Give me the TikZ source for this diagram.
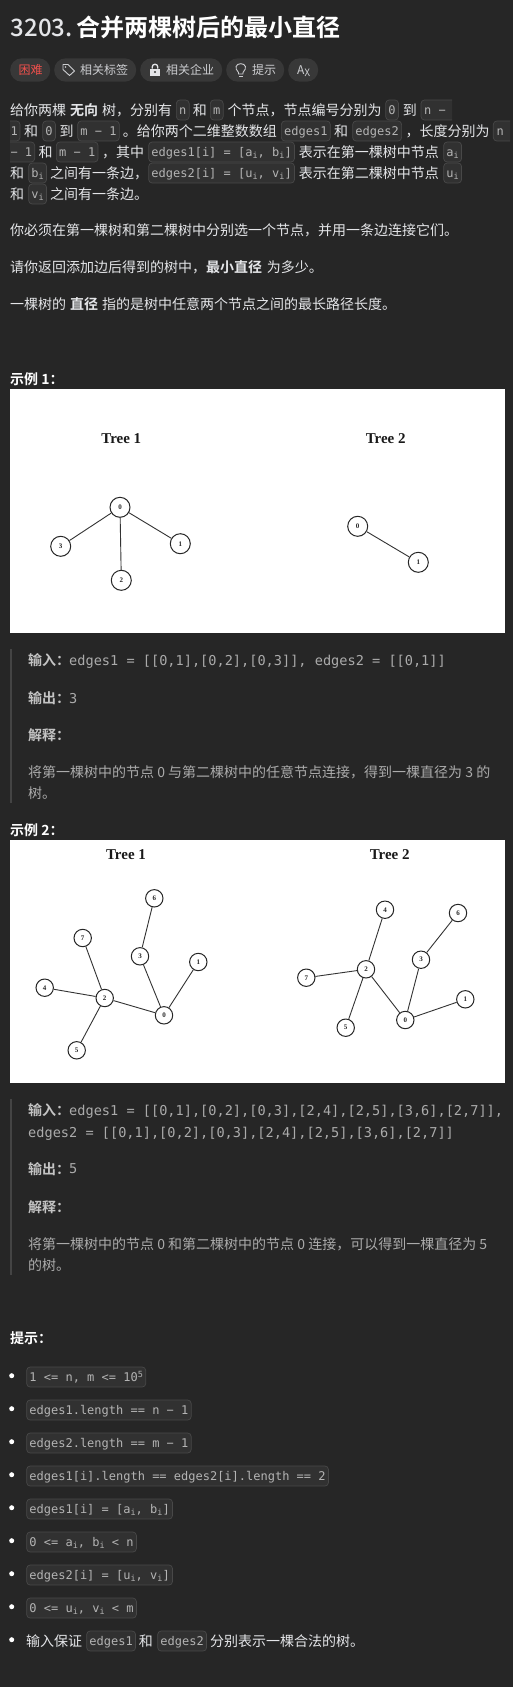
\documentclass[tikz,border=0pt]{standalone}
\usepackage{fontspec}
\setmainfont{Noto Sans CJK SC}[BoldFont={Noto Sans CJK SC Bold}]
\setmonofont{DejaVu Sans Mono}
\newfontfamily\treefont{Liberation Serif}
\newfontfamily\numberfont{Noto Sans CJK SC Medium}
\usetikzlibrary{positioning}

\definecolor{pagebg}{HTML}{262626}
\definecolor{pillbg}{HTML}{383838}
\definecolor{chipbg}{HTML}{313131}
\definecolor{chipedge}{HTML}{484848}
\definecolor{bodytext}{HTML}{E4E5E8}
\definecolor{quotetext}{HTML}{ABABAB}
\definecolor{quotehead}{HTML}{C4C4C4}
\definecolor{codetext}{HTML}{B4B4B4}
\definecolor{hardred}{HTML}{F0504C}
\definecolor{quotebar}{HTML}{444444}

\newcommand{\subi}{\raisebox{-2pt}{\fontsize{8.5}{10}\selectfont i}}

\begin{document}
\begin{tikzpicture}[
  x=1pt, y=-1pt,
  txt/.style={anchor=base west, inner sep=0pt, text=bodytext, font=\fontsize{14}{21}\selectfont},
  head/.style={txt, font=\fontsize{14}{21}\selectfont\bfseries, text=white},
  quo/.style={txt, text=quotetext},
  quohead/.style={txt, text=quotehead, font=\fontsize{14}{21}\selectfont\bfseries},
  quocode/.style={txt, text=quotetext, font=\fontsize{13.6}{21}\ttfamily},
  chip/.style={
    anchor=west, draw=chipedge, fill=chipbg, rounded corners=3.5pt, line width=0.7pt,
    text=codetext, font=\fontsize{12}{14}\ttfamily,
    inner xsep=2.8pt, inner ysep=4pt, text height=10pt, text depth=2pt,
  },
  chiptxt/.style={
    anchor=west, text=codetext, font=\fontsize{12}{14}\ttfamily,
    inner xsep=0pt, inner ysep=4pt, text height=10pt, text depth=2pt,
  },
  openchip/.style={draw=chipedge, fill=chipbg, rounded corners=3.5pt, line width=0.7pt},
  pill/.style={anchor=west, fill=pillbg, rounded corners=11.6pt, minimum height=23.4pt, inner sep=0pt},
  pilltxt/.style={anchor=base west, inner sep=0pt, text=bodytext!90!black, font=\fontsize{12}{14}\selectfont},
  shot/.style={fill=white},
  treehead/.style={text=black!90, inner sep=0pt, font=\treefont\fontsize{15}{16}\selectfont\bfseries},
  treenode/.style={circle, draw=black!85, fill=white, line width=1pt, minimum size=20pt, inner sep=0pt,
    text=black!85, font=\treefont\fontsize{7}{7}\selectfont\bfseries},
  smallnode/.style={treenode, minimum size=17.4pt},
  edge/.style={draw=black!80, line width=0.9pt},
  dot/.style={circle, fill=white, minimum size=5pt, inner sep=0pt},
]
\fill[pagebg] (0,0) rectangle (513,1687);
\useasboundingbox (0,0) rectangle (513,1687);

% --- Title ---
\node[txt, font=\numberfont\fontsize{24}{28}\selectfont] (Number) at (10.5,36) {3203.};
\node[txt, font=\fontsize{24}{28}\selectfont\bfseries, text=white] (Title) at (76,36) {合并两棵树后的最小直径};

% --- Pills ---
\node[pill, minimum width=40pt] (PillHard) at (10,70) {};
\node[pill, minimum width=82pt] (PillTags) at (54,70) {};
\node[pill, minimum width=82pt] (PillFirms) at (140,70) {};
\node[pill, minimum width=58pt] (PillHint) at (226,70) {};
\node[pill, minimum width=30pt] (PillLang) at (288,70) {};
\node[pilltxt, text=hardred] (Hard) at (18.3,74.5) {困难};
\node[pilltxt] (Tags) at (80,74.5) {相关标签};
\node[pilltxt] (Firms) at (166,74.5) {相关企业};
\node[pilltxt] (Hint) at (252,74.5) {提示};
\node[pilltxt, font=\fontsize{12}{14}\selectfont] (LangA) at (297,74.5) {A};
\node[pilltxt, font=\fontsize{10}{14}\selectfont] (LangX) at (304.5,74.5) {χ};
% Tag, lock and bulb icons
\draw[bodytext!90!black, line width=0.9pt, line join=round] (63,64.5) -- (68,64.5) -- (74.5,71) -- (69.5,75.5) -- (63,69.5) -- cycle;
\fill[bodytext!90!black] (65.5,67) circle[radius=0.8pt];
\fill[bodytext] (150,68.5) rectangle (160,75.5);
\draw[bodytext, line width=1.3pt] (152.2,68.5) -- (152.2,67) arc[start angle=180, end angle=0, radius=2.8pt] -- (157.8,68.5);
\fill[pillbg] (155,72) circle[radius=1.2pt];
\draw[bodytext!90!black, line width=0.9pt] (238.5,72.5) .. controls (234,68) and (236,63.7) .. (240.7,63.7) .. controls (245.5,63.7) and (247.5,68) .. (243,72.5) -- (243,74) -- (238.5,74) -- cycle;
\draw[bodytext!90!black, line width=1pt] (239,76) -- (242.5,76);

% --- Statement ---
\node[txt] (L1a) at (10,115) {给你两棵};
\node[txt, font=\fontsize{14}{21}\selectfont\bfseries] (L1b) at (70,115) {无向};
\node[txt] (L1c) at (102,115) {树，分别有};
\node[chip] (L1n) at (176,110) {n};
\node[txt] (L1d) at (192.7,115) {和};
\node[chip] (L1m) at (210,110) {m};
\node[txt] (L1e) at (227.3,115) {个节点，节点编号分别为};
\node[chip] (L1z) at (385.3,110) {0};
\node[txt] (L1f) at (402.7,115) {到};
\draw[openchip] (452,100) -- (421,100) -- (421,120) -- (452,120);
\node[chiptxt] (L1w) at (424,110) {n −};

\draw[openchip] (10,121) -- (20,121) -- (20,141) -- (10,141);
\node[chiptxt] (L2o) at (10.5,131) {1};
\node[txt] (L2a) at (24,136) {和};
\node[chip] (L2z) at (42.3,131) {0};
\node[txt] (L2b) at (59.3,136) {到};
\node[chip] (L2m) at (77.3,131) {m − 1};
\node[txt] (L2c) at (122.7,136) {。给你两个二维整数数组};
\node[chip] (L2e) at (281,131) {edges1};
\node[txt] (L2d) at (334,136) {和};
\node[chip] (L2g) at (352.3,131) {edges2};
\node[txt] (L2f) at (405.3,136) {，长度分别为};
\draw[openchip] (510,121) -- (493.3,121) -- (493.3,141) -- (510,141);
\node[chiptxt] (L2w) at (496.3,131) {n};

\draw[openchip] (10,142) -- (34.7,142) -- (34.7,162) -- (10,162);
\node[chiptxt] (L3o) at (10.3,152) {− 1};
\node[txt] (L3a) at (38.3,157) {和};
\node[chip] (L3m) at (56,152) {m − 1};
\node[txt] (L3b) at (102,157) {，其中};
\node[chip] (L3e) at (148.3,152) {edges1[i] = [a\subi, b\subi]};
\node[txt] (L3c) at (298.7,157) {表示在第一棵树中节点};
\node[chip] (L3v) at (443.3,152) {a\subi};

\node[txt] (L4a) at (10,178) {和};
\node[chip] (L4v) at (28.3,173) {b\subi};
\node[txt] (L4b) at (50,178) {之间有一条边，};
\node[chip] (L4e) at (148.3,173) {edges2[i] = [u\subi, v\subi]};
\node[txt] (L4c) at (298.7,178) {表示在第二棵树中节点};
\node[chip] (L4u) at (443.3,173) {u\subi};

\node[txt] (L5a) at (10,199) {和};
\node[chip] (L5v) at (28.3,194) {v\subi};
\node[txt] (L5b) at (50,199) {之间有一条边。};

\node[txt] (Para2) at (10,235) {你必须在第一棵树和第二棵树中分别选一个节点，并用一条边连接它们。};
\node[txt] (Para3a) at (10,272) {请你返回添加边后得到的树中，};
\node[txt, font=\fontsize{14}{21}\selectfont\bfseries] (Para3b) at (206,272) {最小直径};
\node[txt] (Para3c) at (266.7,272) {为多少。};
\node[txt] (Para4a) at (10,309) {一棵树的};
\node[txt, font=\fontsize{14}{21}\selectfont\bfseries] (Para4b) at (70,309) {直径};
\node[txt] (Para4c) at (102,309) {指的是树中任意两个节点之间的最长路径长度。};

% --- Example 1 ---
\node[head] (ExOne) at (10,384) {示例 1：};
\fill[shot] (10,389) rectangle (505,633);
\node[treehead] (OneTreeA) at (121.3,439) {Tree 1};
\node[treehead] (OneTreeB) at (385.7,439) {Tree 2};
\node[treenode] (a0) at (120,507.3) {0};
\node[treenode] (a1) at (180.3,543.7) {1};
\node[treenode] (a2) at (121.3,580.3) {2};
\node[treenode] (a3) at (60.7,546.3) {3};
\node[treenode] (b0) at (357.7,526.3) {0};
\node[treenode] (b1) at (418.3,562.3) {1};
\foreach \from/\to in {a0/a1, a0/a2, a0/a3, b0/b1}
  \draw[edge] (\from) -- (\to);

\fill[quotebar] (10,649) rectangle (12,802.7);
\node[quohead] (OneIn) at (28,665.7) {输入：};
\node[quocode] (OneInCode) at (69,665) {edges1 = [[0,1],[0,2],[0,3]], edges2 = [[0,1]]};
\node[quohead] (OneOut) at (28,703.7) {输出：};
\node[quocode] (OneOutCode) at (69,703) {3};
\node[quohead] (OneWhy) at (28,740.7) {解释：};
\node[quo] (OneWhyA) at (28,777.7) {将第一棵树中的节点 0 与第二棵树中的任意节点连接，得到一棵直径为 3 的};
\node[quo] (OneWhyB) at (28,798.5) {树。};

% --- Example 2 ---
\node[head] (ExTwo) at (10,835) {示例 2：};
\fill[shot] (10,840) rectangle (505,1082.7);
\node[treehead] (TwoTreeA) at (126,854.3) {Tree 1};
\node[treehead] (TwoTreeB) at (389.7,854.3) {Tree 2};
\foreach \n/\px/\py in {0/164/1015.3, 1/198.3/962, 2/104.7/998, 3/140/956.3, 4/44.7/987.7, 5/76.7/1050.3, 6/154.3/898.3, 7/82.7/938}
  \node[smallnode] (c\n) at (\px,\py) {\n};
\foreach \n/\px/\py in {0/405.3/1020, 1/465.3/999.3, 2/366/969.3, 3/421/959.7, 4/385/909.7, 5/345.7/1027.7, 6/458/913, 7/306.3/977.7}
  \node[smallnode] (d\n) at (\px,\py) {\n};
\foreach \from/\to in {0/1, 0/2, 0/3, 2/4, 2/5, 3/6, 2/7} {
  \draw[edge] (c\from) -- (c\to);
  \draw[edge] (d\from) -- (d\to);
}

\fill[quotebar] (10,1099.3) rectangle (12,1275);
\node[quohead] (TwoIn) at (28,1115.7) {输入：};
\node[quocode] (TwoInCode) at (69,1115) {edges1 = [[0,1],[0,2],[0,3],[2,4],[2,5],[3,6],[2,7]],};
\node[quocode] (TwoInCodeB) at (28,1137.5) {edges2 = [[0,1],[0,2],[0,3],[2,4],[2,5],[3,6],[2,7]]};
\node[quohead] (TwoOut) at (28,1174.3) {输出：};
\node[quocode] (TwoOutCode) at (69,1173.7) {5};
\node[quohead] (TwoWhy) at (28,1212) {解释：};
\node[quo] (TwoWhyA) at (28,1249.3) {将第一棵树中的节点 0 和第二棵树中的节点 0 连接，可以得到一棵直径为 5};
\node[quo] (TwoWhyB) at (28,1270.7) {的树。};

% --- Hints ---
\node[head] (Hints) at (10,1343.3) {提示：};
\foreach \i/\py in {1/1375.7, 2/1408.7, 3/1441.7, 4/1474.7, 5/1507.7, 6/1540.7, 7/1573.7, 8/1606.7, 9/1639.7}
  \node[dot] (Dot\i) at (11.7,\py) {};
\node[chip] (H1) at (26.3,1377) {1 <= n, m <= 10\raisebox{4pt}{\fontsize{8.5}{10}\selectfont 5}};
\node[chip] (H2) at (26.3,1410) {edges1.length == n − 1};
\node[chip] (H3) at (26.3,1443) {edges2.length == m − 1};
\node[chip] (H4) at (26.3,1476) {edges1[i].length == edges2[i].length == 2};
\node[chip] (H5) at (26.3,1509) {edges1[i] = [a\subi, b\subi]};
\node[chip] (H6) at (26.3,1542) {0 <= a\subi, b\subi{} < n};
\node[chip] (H7) at (26.3,1575) {edges2[i] = [u\subi, v\subi]};
\node[chip] (H8) at (26.3,1608) {0 <= u\subi, v\subi{} < m};
\node[txt] (H9a) at (26,1646) {输入保证};
\node[chip] (H9b) at (86.3,1641) {edges1};
\node[txt] (H9c) at (138.7,1646) {和};
\node[chip] (H9d) at (157.3,1641) {edges2};
\node[txt] (H9e) at (210,1646) {分别表示一棵合法的树。};
\end{tikzpicture}
\end{document}
